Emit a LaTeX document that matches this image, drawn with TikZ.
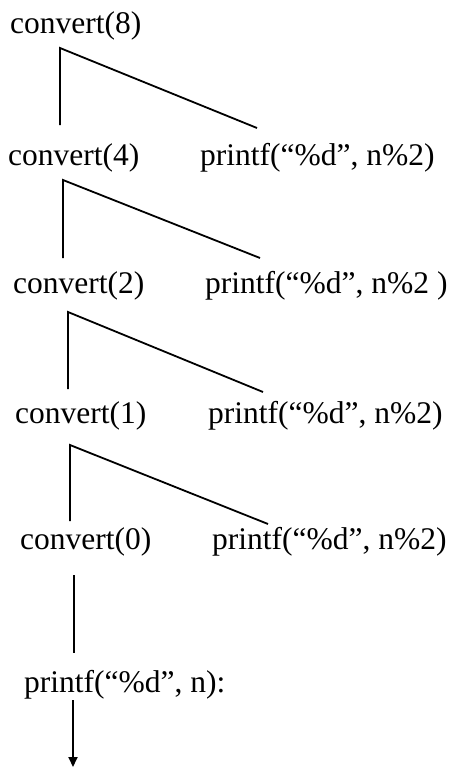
\documentclass[tikz,border=0pt]{standalone}
\usepackage{fontspec}
\setmainfont{Liberation Serif}
\usetikzlibrary{arrows.meta}
\begin{document}
\begin{tikzpicture}[x=1pt,y=-1pt,
  lbl/.style={anchor=base west,inner sep=0pt,font=\fontsize{31.5}{36}\selectfont},
  conn/.style={line width=1.8pt}]
\useasboundingbox[fill=white] (0,0) rectangle (452,774);
\node[lbl] (c8) at (10,33) {convert(8)};
\node[lbl] (c4) at (8,165) {convert(4)};
\node[lbl] (p4) at (200,165) {printf(“\%d”, n\%2)};
\node[lbl] (c2) at (13,293) {convert(2)};
\node[lbl] (p2) at (205,293) {printf(“\%d”, n\%2 )};
\node[lbl] (c1) at (15,423) {convert(1)};
\node[lbl] (p1) at (208,423) {printf(“\%d”, n\%2)};
\node[lbl] (c0) at (20,549) {convert(0)};
\node[lbl] (p0) at (212,549) {printf(“\%d”, n\%2)};
\node[lbl] (pn) at (24,692) {printf(“\%d”, n):};
% junctions and line ends
\coordinate (j8) at (60,48);  \coordinate (v8) at (60,125);  \coordinate (d8) at (257,128);
\coordinate (j4) at (63,180); \coordinate (v4) at (63,258);  \coordinate (d4) at (260,258);
\coordinate (j2) at (68,312); \coordinate (v2) at (68,389);  \coordinate (d2) at (263,392);
\coordinate (j1) at (70,445); \coordinate (v1) at (70,521);  \coordinate (d1) at (268,524);
\coordinate (j0) at (74,575); \coordinate (v0) at (74,653);
\coordinate (ja) at (73,700); \coordinate (ea) at (73,767);
\draw[conn] (v8) -- (j8) -- (d8);
\draw[conn] (v4) -- (j4) -- (d4);
\draw[conn] (v2) -- (j2) -- (d2);
\draw[conn] (v1) -- (j1) -- (d1);
\draw[conn] (j0) -- (v0);
\draw[conn,-{Triangle[width=9pt,length=10pt]}] (ja) -- (ea);
\end{tikzpicture}
\end{document}
